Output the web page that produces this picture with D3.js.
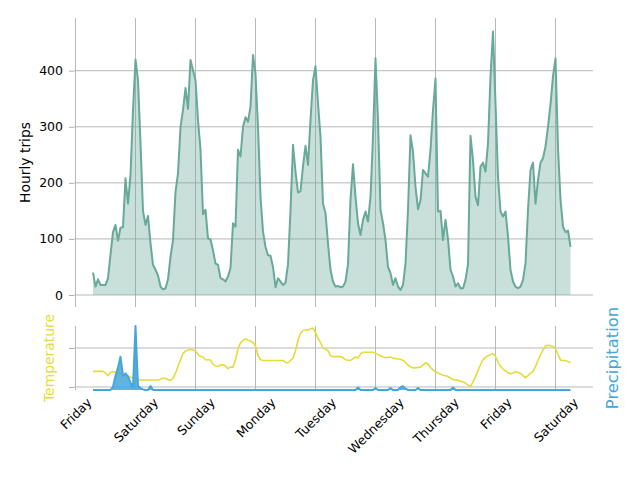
<!DOCTYPE html>
<html><head><meta charset="utf-8">
<script src="https://cdn.jsdelivr.net/npm/d3@7"></script>
<style>body{margin:0;background:#fff} svg{display:block} text{font-family:"DejaVu Sans",sans-serif}</style>
</head><body><svg id="c" width="640" height="480"></svg>
<script>
// hourly data, first value at hour 7 of the first Friday
const startHour = 7;
const dayLabels = ["Friday","Saturday","Sunday","Monday","Tuesday","Wednesday","Thursday","Friday","Saturday"];
const tripTicks = [0,100,200,300,400];
const tempTicks = [0,10];

const trips = [
  40,15,28,18,18,18,30,72,112,125,97,120,121,208,163,214,330,
  420,383,270,150,125,141,92,54,45,35,15,10,12,28,68,98,184,217,299,330,369,332,419,401,
  383,312,259,144,152,101,99,80,56,54,30,28,24,33,48,128,122,259,247,300,317,309,336,428,
  395,300,175,113,86,71,70,50,14,30,24,18,22,55,150,268,220,183,185,230,266,232,312,383,
  408,342,282,163,146,92,45,24,15,16,14,15,24,55,170,233,175,128,107,134,149,131,175,282,
  422,312,152,128,98,50,39,18,30,15,9,18,56,152,285,255,193,153,169,223,217,211,259,330,
  386,149,150,98,134,100,45,33,15,21,12,12,27,55,284,240,175,160,229,236,220,270,389,470,
  342,211,149,140,149,104,45,24,15,12,15,27,56,152,223,236,163,205,236,244,265,300,340,390,
  422,262,170,122,112,115,86
];

const temperature = [
  4.0,4.0,4.0,4.0,4.0,3.6,2.9,3.8,4.0,3.8,3.6,3.5,3.3,3.0,2.8,2.5,2.3,
  2.1,1.9,1.8,1.8,1.8,1.8,1.8,1.8,1.8,1.8,2.0,2.3,2.2,1.9,1.7,2.2,3.6,5.3,7.0,8.6,9.2,9.5,9.6,9.5,
  9.2,8.4,7.8,7.7,7.0,7.0,6.9,5.8,5.4,5.3,5.6,5.7,5.4,4.7,5.1,5.1,7.0,9.8,11.3,12.0,12.3,12.0,11.8,11.4,
  10.5,8.0,7.0,6.8,6.8,6.8,6.8,6.8,6.8,6.8,6.8,6.8,6.3,6.2,6.8,7.4,9.3,12.0,13.8,14.5,14.6,14.6,14.9,15.1,
  14.0,12.5,11.4,10.0,9.7,9.3,8.0,7.8,7.8,7.8,7.8,7.5,7.0,6.9,6.8,7.3,7.7,7.4,8.5,8.9,8.9,8.9,8.9,8.9,
  8.7,8.3,8.0,7.7,7.5,7.6,7.7,7.4,7.3,7.2,7.1,6.8,6.3,5.6,5.2,4.9,4.9,5.0,5.1,5.6,6.2,5.9,5.0,4.4,
  3.9,3.6,3.3,3.0,2.9,2.7,2.3,1.9,1.8,1.7,1.5,1.3,1.0,0.5,0.1,1.3,2.6,4.2,5.7,7.0,7.6,8.0,8.3,8.5,
  7.9,6.3,5.3,4.6,4.1,3.7,3.4,3.6,4.0,3.8,3.5,2.9,2.4,2.9,3.5,4.0,5.3,6.8,8.2,9.5,10.5,10.7,10.6,10.4,
  9.8,8.4,6.9,6.8,6.8,6.5,6.2
];

const precipitation = [
  0,0,0,0,0,0,0,0,0.05,0.22,0.35,0.52,0.22,0.26,0.21,0.12,0.04,
  1.0,0.06,0.03,0.01,0,0,0.06,0,0,0,0,0,0,0,0,0,0,0,0,0,0,0,0,0,
  0,0,0,0,0,0,0,0,0,0,0,0,0,0,0,0,0,0,0,0,0,0,0,0,
  0,0,0,0,0,0,0,0,0,0,0,0,0,0,0,0,0,0,0,0,0,0,0,0,
  0,0,0,0,0,0,0,0,0,0,0,0,0,0,0,0,0,0.04,0,0,0,0,0,0,
  0.03,0,0,0,0,0,0.03,0,0,0,0.04,0.06,0.02,0,0,0,0,0.03,0,0,0,0,0,0,
  0,0,0,0,0,0,0,0.04,0,0,0,0,0,0,0,0,0,0,0,0,0,0,0,0,
  0,0,0,0,0,0,0,0,0,0,0,0,0,0,0,0,0,0,0,0,0,0,0,0,
  0,0,0,0,0,0,0
];

const svg = d3.select("#c");
const left = 74, right = 593;
const top1 = 18, bot1 = 307, top2 = 326, bot2 = 390;
const gridColor = "#b0b0b0";
const tripColor = "#69a99a", tempColor = "#e5dc3a", precColor = "#46a6d8";

const x = d3.scaleLinear().domain([-0.6, 207]).range([left, right]);
const yT = d3.scaleLinear().domain([-21.4, 494]).range([bot1, top1]);
const yTemp = d3.scaleLinear().domain([-0.77, 15.64]).range([bot2, top2]);
const yP = d3.scaleLinear().domain([0, 1]).range([bot2, top2]);
const hx = (d, i) => x(i + startHour);
const dayHours = dayLabels.map((d, i) => i * 24);

// grids
function vgrid(y0, y1) {
  svg.append("g").selectAll("line").data(dayHours).join("line")
    .attr("x1", d => x(d)).attr("x2", d => x(d)).attr("y1", y0).attr("y2", y1)
    .attr("stroke", gridColor).attr("stroke-width", 0.9);
}
vgrid(top1, bot1); vgrid(top2, bot2);
svg.append("g").selectAll("line").data(tripTicks).join("line")
  .attr("x1", left).attr("x2", right).attr("y1", d => yT(d)).attr("y2", d => yT(d))
  .attr("stroke", gridColor).attr("stroke-width", 0.9);
svg.append("g").selectAll("line").data(tempTicks).join("line")
  .attr("x1", left).attr("x2", right).attr("y1", d => yTemp(d)).attr("y2", d => yTemp(d))
  .attr("stroke", gridColor).attr("stroke-width", 0.9);

// trips
svg.append("path").datum(trips)
  .attr("d", d3.area().x(hx).y0(yT(0)).y1(d => yT(d)))
  .attr("fill", tripColor).attr("fill-opacity", 0.37);
svg.append("path").datum(trips)
  .attr("d", d3.line().x(hx).y(d => yT(d)))
  .attr("fill", "none").attr("stroke", tripColor).attr("stroke-width", 2).attr("stroke-linejoin", "round");

// temperature
svg.append("path").datum(temperature)
  .attr("d", d3.line().x(hx).y(d => yTemp(d)))
  .attr("fill", "none").attr("stroke", tempColor).attr("stroke-width", 1.6).attr("stroke-linejoin", "round");

// precipitation
svg.append("path").datum(precipitation)
  .attr("d", d3.area().x(hx).y0(yP(0)).y1(d => yP(d)))
  .attr("fill", precColor).attr("fill-opacity", 0.85);
svg.append("path").datum(precipitation)
  .attr("d", d3.line().x(hx).y(d => yP(d)))
  .attr("fill", "none").attr("stroke", precColor).attr("stroke-width", 2).attr("stroke-linejoin", "round");

// y axis (trips)
const ay = svg.append("g").attr("transform", `translate(${left},0)`)
  .call(d3.axisLeft(yT).tickValues(tripTicks).tickSize(5).tickPadding(6));
ay.select(".domain").remove();
ay.selectAll("line").attr("stroke", gridColor);
ay.selectAll("text").attr("font-size", 12.5).attr("fill", "#000").attr("font-family", "DejaVu Sans");

// temperature axis ticks (no labels)
const at = svg.append("g").attr("transform", `translate(${left},0)`)
  .call(d3.axisLeft(yTemp).tickValues(tempTicks).tickSize(5).tickFormat(""));
at.select(".domain").remove();
at.selectAll("line").attr("stroke", gridColor);

// x axis
const ax = svg.append("g").attr("transform", `translate(0,${bot2})`)
  .call(d3.axisBottom(x).tickValues(dayHours).tickSize(0).tickFormat((d, i) => dayLabels[i]));
ax.select(".domain").remove();
const fs = 12.5, lh = 1.164 * fs;
ax.selectAll("text").attr("font-size", fs).attr("fill", "#000").attr("font-family", "DejaVu Sans")
  .attr("y", 0).attr("dy", "0.35em").attr("text-anchor", "middle")
  .each(function() {
    const w = this.getComputedTextLength();
    const off = (w + lh) / (2 * Math.SQRT2);
    d3.select(this).attr("transform", `translate(0,${5 + off}) rotate(-45)`);
  });

// axis titles
svg.append("text").attr("transform", `translate(25,${(top1 + bot1) / 2}) rotate(-90)`)
  .attr("text-anchor", "middle").attr("dy", "0.35em").attr("font-size", 13.9).attr("fill", "#000")
  .text("Hourly trips");
svg.append("text").attr("transform", `translate(49.5,${(top2 + bot2) / 2}) rotate(-90)`)
  .attr("text-anchor", "middle").attr("dy", "0.35em").attr("font-size", 13.9).attr("fill", tempColor)
  .text("Temperature");
svg.append("text").attr("transform", `translate(612.5,${(top2 + bot2) / 2}) rotate(-90)`)
  .attr("text-anchor", "middle").attr("dy", "0.35em").attr("font-size", 16.4).attr("fill", precColor)
  .text("Precipitation");
</script></body></html>
